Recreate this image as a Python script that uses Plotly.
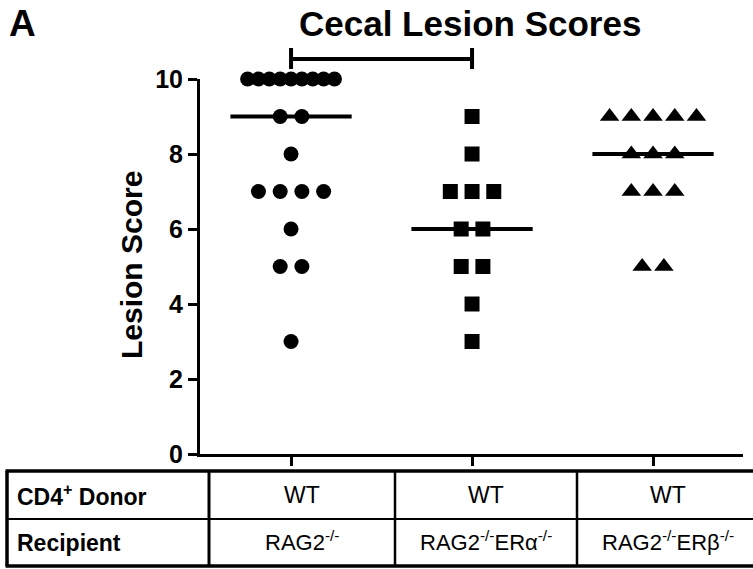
import numpy as np
import plotly.graph_objects as go

# ---------------- data ----------------
groups = ["RAG2-/-", "RAG2-/-ERα-/-", "RAG2-/-ERβ-/-"]
scores_rag2 = [10, 10, 10, 10, 10, 10, 10, 10, 10, 9, 9, 8, 7, 7, 7, 7, 6, 5, 5, 3]
scores_eralpha = [9, 8, 7, 7, 7, 6, 6, 5, 5, 4, 3]
scores_erbeta = [9, 9, 9, 9, 9, 8, 8, 8, 7, 7, 7, 5, 5]
donor_labels = ["WT", "WT", "WT"]
recipient_labels = ["RAG2<sup>-/-</sup>", "RAG2<sup>-/-</sup>ERα<sup>-/-</sup>",
                    "RAG2<sup>-/-</sup>ERβ<sup>-/-</sup>"]
y_ticks = [0, 2, 4, 6, 8, 10]
sig_pair = [0, 1]

series = [scores_rag2, scores_eralpha, scores_erbeta]
symbols = ["circle", "square", "triangle-up"]
sizes = [15, 15, 17]

FONT = "Liberation Sans, Arial, sans-serif"
W, H = 753, 569
L, R, T, B = 200, 10, 79, 115
PW, PH = W - L - R, H - T - B


def px(x):
    return (x - L) / PW


def py(y):
    return (H - B - y) / PH


def scatter_offsets(values, step=0.12, maxspan=0.48):
    values = list(values)
    out = [0.0] * len(values)
    for v in set(values):
        idx = [i for i, a in enumerate(values) if a == v]
        n = len(idx)
        sp = step if n < 2 else min(step, maxspan / (n - 1))
        for k, i in enumerate(idx):
            out[i] = (k - (n - 1) / 2) * sp
    return out


fig = go.Figure()
for gi, vals in enumerate(series):
    offs = scatter_offsets(vals)
    fig.add_trace(go.Scatter(
        x=[gi + o for o in offs], y=vals, mode="markers",
        marker=dict(symbol=symbols[gi], size=sizes[gi], color="black",
                    line=dict(width=0)),
        cliponaxis=False, showlegend=False, hoverinfo="skip"))
for gi, vals in enumerate(series):
    m = float(np.median(vals))
    fig.add_trace(go.Scatter(
        x=[gi - 0.335, gi + 0.335], y=[m, m], mode="lines",
        line=dict(color="black", width=4), cliponaxis=False,
        showlegend=False, hoverinfo="skip"))

shapes = []
# significance bracket (between groups in sig_pair), x in data units, y in paper
a, b = sig_pair
br_y, br_lo, br_hi = py(59), py(69), py(48)
shapes.append(dict(type="line", xref="x", yref="paper", x0=a, x1=b, y0=br_y, y1=br_y,
                   line=dict(color="black", width=4)))
for xx in (a, b):
    shapes.append(dict(type="line", xref="x", yref="paper", x0=xx, x1=xx,
                       y0=br_lo, y1=br_hi, line=dict(color="black", width=4)))

# table
tbl_top, tbl_mid, tbl_bot = 471, 519, 566
tbl_left, tbl_right = 7, 760
col_div = [209, 395, 577]
col_centers = [302, 486, 668]


def hline(y, x0, x1, w):
    shapes.append(dict(type="line", xref="paper", yref="paper", x0=px(x0), x1=px(x1),
                       y0=py(y), y1=py(y), line=dict(color="black", width=w)))


def vline(x, y0, y1, w):
    shapes.append(dict(type="line", xref="paper", yref="paper", x0=px(x), x1=px(x),
                       y0=py(y0), y1=py(y1), line=dict(color="black", width=w)))


hline(tbl_top, tbl_left - 1.5, tbl_right, 3.5)
hline(tbl_bot, tbl_left - 1.5, tbl_right, 3.5)
hline(tbl_mid, tbl_left, tbl_right, 2)
vline(tbl_left, tbl_top, tbl_bot, 3.5)
vline(col_div[0], tbl_top, tbl_bot, 3)
vline(col_div[1], tbl_top, tbl_bot, 2.5)
vline(col_div[2], tbl_top, tbl_bot, 2.5)

ann = []
ann.append(dict(text="<b>A</b>", x=px(7), y=py(23), xref="paper", yref="paper",
                xanchor="left", yanchor="middle", showarrow=False,
                font=dict(family=FONT, size=37, color="black")))
ann.append(dict(text="<b>Cecal Lesion Scores</b>", x=px(470), y=py(23), xref="paper",
                yref="paper", xanchor="center", yanchor="middle", showarrow=False,
                font=dict(family=FONT, size=35, color="black")))
ann.append(dict(text="<b>Lesion Score</b>", x=px(131), y=py(265), xref="paper",
                yref="paper", xanchor="center", yanchor="middle", showarrow=False,
                textangle=-90, font=dict(family=FONT, size=30, color="black")))
ann.append(dict(text="<b>CD4<sup>+</sup> Donor</b>", x=px(15), y=py(495), xref="paper",
                yref="paper", xanchor="left", yanchor="middle", showarrow=False,
                font=dict(family=FONT, size=23, color="black")))
ann.append(dict(text="<b>Recipient</b>", x=px(15), y=py(543), xref="paper",
                yref="paper", xanchor="left", yanchor="middle", showarrow=False,
                font=dict(family=FONT, size=23, color="black")))
for ci in range(3):
    ann.append(dict(text=donor_labels[ci], x=px(col_centers[ci]), y=py(495),
                    xref="paper", yref="paper", xanchor="center", yanchor="middle",
                    showarrow=False, font=dict(family=FONT, size=23, color="black")))
    ann.append(dict(text=recipient_labels[ci], x=px(col_centers[ci]), y=py(541),
                    xref="paper", yref="paper", xanchor="center", yanchor="middle",
                    showarrow=False, font=dict(family=FONT, size=22, color="black")))

fig.update_layout(
    width=W, height=H, margin=dict(l=L, r=R, t=T, b=B, pad=0),
    paper_bgcolor="white", plot_bgcolor="white",
    shapes=shapes, annotations=ann, showlegend=False,
    xaxis=dict(range=[-0.503, 2.497], showgrid=False, zeroline=False,
               showline=True, linecolor="black", linewidth=3,
               ticks="outside", tickvals=[0, 1, 2], ticklen=9, tickwidth=3,
               tickcolor="black", showticklabels=False, fixedrange=True),
    yaxis=dict(range=[0, 10], showgrid=False, zeroline=False,
               showline=True, linecolor="black", linewidth=3,
               ticks="outside", tickvals=y_ticks, ticklen=9, tickwidth=3,
               tickcolor="black",
               tickfont=dict(family=FONT, size=25, color="black", weight="bold"),
               fixedrange=True),
)

fig.write_html("out.html", config={"displayModeBar": False},
               post_script="document.body.style.margin='0px';"
                           "document.body.style.overflow='hidden';")
